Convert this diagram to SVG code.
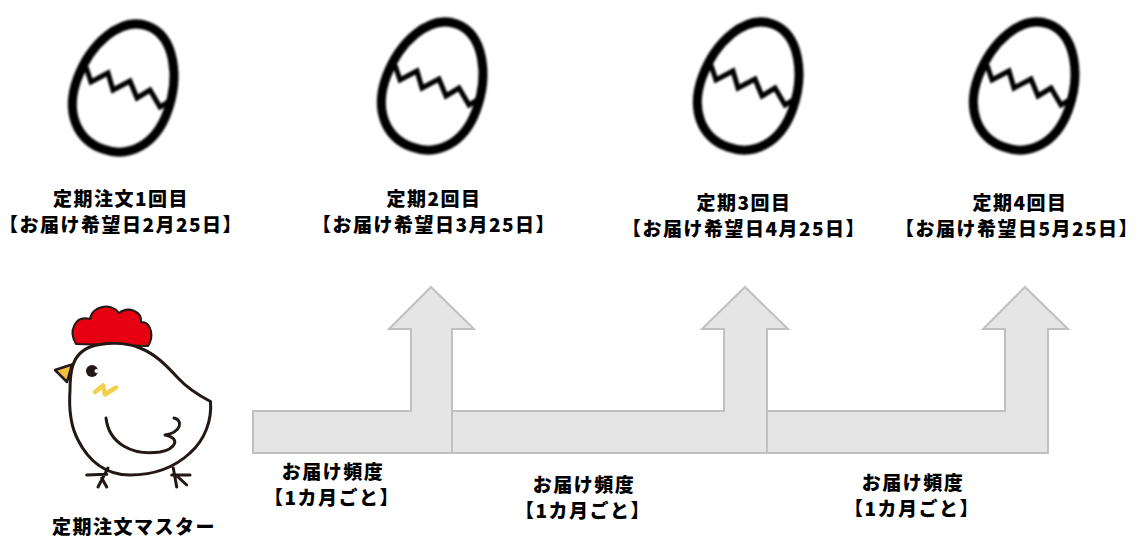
<svg xmlns="http://www.w3.org/2000/svg" xmlns:xlink="http://www.w3.org/1999/xlink" width="1138" height="537" viewBox="0 0 1138 537">
  <style>
    .lbl { font-family: "Noto Sans CJK JP", "Noto Sans", sans-serif; font-weight: 900; font-size: 19px; letter-spacing: 1.5px; fill: #000; text-anchor: middle; }
    .flow { fill: #e5e5e5; stroke: #c0c0c0; stroke-width: 2; stroke-linejoin: miter; }
    .egg-shell { fill: none; stroke: #000; stroke-width: 9; }
    .egg-crack { fill: none; stroke: #000; stroke-width: 5; stroke-linejoin: miter; }
    .ink { fill: none; stroke: #231815; stroke-width: 3; stroke-linecap: round; stroke-linejoin: round; }
  </style>
  <defs>
    <filter id="soft" x="-20%" y="-20%" width="140%" height="140%">
      <feGaussianBlur stdDeviation="0.9"/>
    </filter>
    <!-- cracked egg, centred on its own origin -->
    <g id="egg">
      <path class="egg-shell" transform="rotate(20)" d="M 0,-66 C 29,-66 48,-29 48,8 C 48,43 28,65 0,65 C -28,65 -48,43 -48,8 C -48,-29 -29,-66 0,-66 Z"/>
      <polyline class="egg-crack" points="-39,-21 -34,-6 -17,-15 -12,2 5,-7 12,10 25,2 35,19 46,12"/>
    </g>
  </defs>

  <!-- eggs: one per scheduled delivery -->
  <g id="egg-1" filter="url(#soft)"><use xlink:href="#egg" transform="translate(125,88)"/></g>
  <g id="egg-2" filter="url(#soft)"><use xlink:href="#egg" transform="translate(434,86)"/></g>
  <g id="egg-3" filter="url(#soft)"><use xlink:href="#egg" transform="translate(750,86)"/></g>
  <g id="egg-4" filter="url(#soft)"><use xlink:href="#egg" transform="translate(1026,86)"/></g>

  <!-- delivery labels -->
  <g id="label-1">
    <text class="lbl" x="121" y="206">定期注文1回目</text>
    <text class="lbl" x="121" y="232">【お届け希望日2月25日】</text>
  </g>
  <g id="label-2">
    <text class="lbl" x="434" y="206">定期2回目</text>
    <text class="lbl" x="434" y="232">【お届け希望日3月25日】</text>
  </g>
  <g id="label-3">
    <text class="lbl" x="744" y="210">定期3回目</text>
    <text class="lbl" x="744" y="236">【お届け希望日4月25日】</text>
  </g>
  <g id="label-4">
    <text class="lbl" x="1020" y="210">定期4回目</text>
    <text class="lbl" x="1017" y="236">【お届け希望日5月25日】</text>
  </g>

  <!-- connectors: stepped arrows from the master order up to each delivery -->
  <g id="connectors">
    <polygon class="flow" points="253,411 411,411 411,329 389,329 431,287 474,329 452,329 452,453 253,453"/>
    <polygon class="flow" points="452,411 724,411 724,329 702,329 745,287 788,329 767,329 767,453 452,453"/>
    <polygon class="flow" points="767,411 1005,411 1005,329 983,329 1025,287 1068,329 1048,329 1048,453 767,453"/>
  </g>

  <!-- interval labels -->
  <g id="interval-1">
    <text class="lbl" x="333" y="479">お届け頻度</text>
    <text class="lbl" x="332" y="505">【1カ月ごと】</text>
  </g>
  <g id="interval-2">
    <text class="lbl" x="584" y="492">お届け頻度</text>
    <text class="lbl" x="583" y="518">【1カ月ごと】</text>
  </g>
  <g id="interval-3">
    <text class="lbl" x="913" y="490">お届け頻度</text>
    <text class="lbl" x="912" y="516">【1カ月ごと】</text>
  </g>

  <!-- master order: hen -->
  <g id="hen">
    <path d="M 76,344 C 68,331 75,315 90,319 C 92,306 111,302 119,313 C 128,306 142,311 141,322 C 152,322 154,337 148,346 Z" fill="#e60012" stroke="#231815" stroke-width="2" stroke-linejoin="round"/>
    <path d="M 71.7,370 C 74,358 80,351 90,347 C 105,342 125,342 140,348 C 155,354 165,364 178,378 C 188,389 200,396 210.5,401.5 C 212,420 205,440 190,453 C 175,467 155,475 130,475 C 105,475 88,460 78,440 C 70,425 69,405 70,390 C 70,383 70.5,376 71.7,370 Z" fill="#fff" stroke="#231815" stroke-width="3" stroke-linejoin="round"/>
    <path d="M 55,370 L 72,364.5 L 67,382 Z" fill="#f5c13c" stroke="#231815" stroke-width="2.5" stroke-linejoin="round"/>
    <circle cx="92" cy="371" r="6" fill="#231815"/>
    <circle cx="96.5" cy="371" r="2" fill="#fff"/>
    <polyline points="95,392 103,385.5 105,394.5 116,387.5" fill="none" stroke="#f5cf4a" stroke-width="4.5" stroke-linecap="round" stroke-linejoin="round"/>
    <path class="ink" d="M 106,418 C 109,444 133,456 160,452 C 176,449 181,438 165,435 C 182,432 183,420 174,418"/>
    <path class="ink" d="M 108,468 L 98,487 M 86.7,475 L 106.7,474.3 M 101.7,478 L 106.7,487"/>
    <path class="ink" d="M 173.3,468 L 176.7,487 M 171.7,475 L 190,475 M 178,477 L 186.7,485"/>
    <text class="lbl" x="134" y="534">定期注文マスター</text>
  </g>
</svg>
